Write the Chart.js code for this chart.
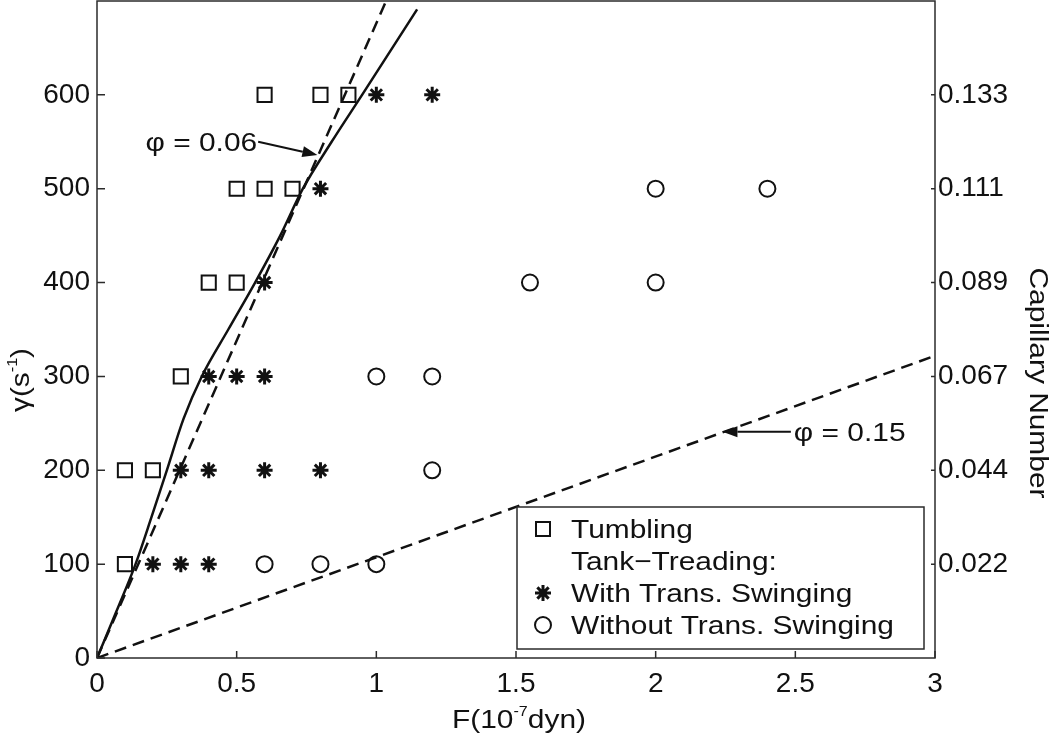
<!DOCTYPE html>
<html>
<head>
<meta charset="utf-8">
<script src="https://cdn.jsdelivr.net/npm/chart.js"></script>
<style>
  html, body { margin: 0; padding: 0; background: #fff; }
  #wrap { width: 1050px; height: 740px; }
</style>
</head>
<body>
<div id="wrap"><canvas id="phase" width="1050" height="740"></canvas></div>
<script>
"use strict";

// Tumbling (squares)
const tumbF = [0.1, 0.1, 0.2, 0.3, 0.4, 0.5, 0.5, 0.6, 0.7, 0.6, 0.8, 0.9];
const tumbG = [100, 200, 200, 300, 400, 400, 500, 500, 500, 600, 600, 600];
// Tank-treading with transient swinging (asterisks)
const withF = [0.2, 0.3, 0.4, 0.3, 0.4, 0.6, 0.8, 0.4, 0.5, 0.6, 0.6, 0.8, 1.0, 1.2];
const withG = [100, 100, 100, 200, 200, 200, 200, 300, 300, 300, 400, 500, 600, 600];
// Tank-treading without transient swinging (circles)
const woF = [0.6, 0.8, 1.0, 1.2, 1.0, 1.2, 1.55, 2.0, 2.0, 2.4];
const woG = [100, 100, 100, 200, 300, 300, 400, 400, 500, 500];

// solid boundary curve
const fitF = [0, 0.07, 0.138, 0.195, 0.25, 0.31, 0.375, 0.47, 0.566, 0.656, 0.737, 0.84, 0.949, 1.146];
const fitG = [0, 50, 100, 150, 200, 255, 300, 350, 400, 450, 500, 550, 600, 691];
// dashed lines phi = 0.06 and phi = 0.15
const phi06F = [0, 1.035];
const phi06G = [0, 700];
const phi15F = [0, 3];
const phi15G = [0, 322];

// axes
const xTicks = [0, 0.5, 1, 1.5, 2, 2.5, 3];
const yTicks = [0, 100, 200, 300, 400, 500, 600];
const capTicks = [100, 200, 300, 400, 500, 600];
const capLabels = ['0.022', '0.044', '0.067', '0.089', '0.111', '0.133'];

const FONT = "'Liberation Sans', Arial, Helvetica, sans-serif";
const INK = '#111';
const AXIS = '#2b2b2b';
const WIDE = 1.15; // figure font is wider than Arial

function pts(xs, ys) {
  return xs.map((x, i) => ({ x: x, y: ys[i] }));
}

// draw text stretched a bit horizontally
function wideText(ctx, txt, x, y, size, align) {
  ctx.save();
  ctx.font = size + 'px ' + FONT;
  ctx.textAlign = align;
  ctx.textBaseline = 'alphabetic';
  ctx.translate(x, y);
  ctx.scale(WIDE, 1);
  ctx.fillText(txt, 0, 0);
  ctx.restore();
}

// text with superscript parts, centred on 0,0 (baseline)
function richText(ctx, parts, size) {
  let widths = parts.map(p => {
    ctx.font = (p.sup ? Math.round(size * 0.55) : size) + 'px ' + FONT;
    return ctx.measureText(p.t).width * WIDE;
  });
  let total = widths.reduce((a, b) => a + b, 0);
  let x = -total / 2;
  parts.forEach((p, i) => {
    let s = p.sup ? Math.round(size * 0.55) : size;
    wideText(ctx, p.t, x, p.sup ? -size * 0.45 : 0, s, 'left');
    x += widths[i];
  });
}

const legendRows = [
  { style: 'rect', text: 'Tumbling' },
  { style: null, text: 'Tank\u2212Treading:' },
  { style: 'star', text: 'With Trans. Swinging' },
  { style: 'circle', text: 'Without Trans. Swinging' }
];

const notes = [
  { text: '\u03c6 = 0.06', align: 'right', from: [0.577, 550], to: [0.789, 536], gap: -1 },
  { text: '\u03c6 = 0.15', align: 'left', from: [2.484, 241], to: [2.239, 241], gap: 3 }
];

function marker(ctx, style, x, y) {
  ctx.save();
  ctx.strokeStyle = INK;
  ctx.beginPath();
  if (style === 'rect') {
    ctx.lineWidth = 2;
    ctx.rect(x - 7, y - 7, 14, 14);
  } else if (style === 'circle') {
    ctx.lineWidth = 2;
    ctx.arc(x, y, 8, 0, Math.PI * 2);
  } else if (style === 'star') {
    ctx.lineWidth = 3;
    for (let k = 0; k < 4; k++) {
      let a = k * Math.PI / 4;
      ctx.moveTo(x - Math.cos(a) * 8, y - Math.sin(a) * 8);
      ctx.lineTo(x + Math.cos(a) * 8, y + Math.sin(a) * 8);
    }
  }
  ctx.stroke();
  ctx.restore();
}

const frame = {
  id: 'frame',
  afterDraw(chart) {
    const { ctx, chartArea: a, scales } = chart;
    ctx.save();
    // box and inward ticks
    ctx.strokeStyle = AXIS;
    ctx.lineWidth = 1.5;
    ctx.strokeRect(a.left, a.top, a.right - a.left, a.bottom - a.top);
    ctx.beginPath();
    scales.x.ticks.forEach(t => {
      let px = scales.x.getPixelForValue(t.value);
      ctx.moveTo(px, a.bottom);
      ctx.lineTo(px, a.bottom - 7);
    });
    scales.y.ticks.forEach(t => {
      let py = scales.y.getPixelForValue(t.value);
      ctx.moveTo(a.left, py);
      ctx.lineTo(a.left + 8, py);
    });
    scales.y2.ticks.forEach(t => {
      let py = scales.y2.getPixelForValue(t.value);
      ctx.moveTo(a.right, py);
      ctx.lineTo(a.right - 4, py);
    });
    ctx.stroke();

    // annotations with arrows
    ctx.fillStyle = INK;
    ctx.strokeStyle = INK;
    notes.forEach(n => {
      let x0 = scales.x.getPixelForValue(n.from[0]);
      let y0 = scales.y.getPixelForValue(n.from[1]);
      let x1 = scales.x.getPixelForValue(n.to[0]);
      let y1 = scales.y.getPixelForValue(n.to[1]);
      let ang = Math.atan2(y1 - y0, x1 - x0);
      let hl = 15, hw = 5.5;
      let bx = x1 - Math.cos(ang) * hl, by = y1 - Math.sin(ang) * hl;
      ctx.lineWidth = 2;
      ctx.beginPath();
      ctx.moveTo(x0, y0);
      ctx.lineTo(bx, by);
      ctx.stroke();
      ctx.beginPath();
      ctx.moveTo(x1, y1);
      ctx.lineTo(bx + Math.sin(ang) * hw, by - Math.cos(ang) * hw);
      ctx.lineTo(bx - Math.sin(ang) * hw, by + Math.cos(ang) * hw);
      ctx.closePath();
      ctx.fill();
      wideText(ctx, n.text, x0 + n.gap, y0 + 9, 26, n.align);
    });

    // legend
    let lw = 407, lh = 142;
    let lx = a.right - 11 - lw, ly = a.bottom - 9 - lh;
    ctx.fillStyle = '#fff';
    ctx.fillRect(lx, ly, lw, lh);
    ctx.strokeStyle = AXIS;
    ctx.lineWidth = 1.5;
    ctx.strokeRect(lx, ly, lw, lh);
    ctx.fillStyle = INK;
    legendRows.forEach((r, i) => {
      let cy = ly + 22 + i * 32;
      if (r.style) marker(ctx, r.style, lx + 26, cy);
      wideText(ctx, r.text, lx + 54, cy + 9, 26, 'left');
    });

    // axis titles
    ctx.save();
    ctx.translate((a.left + a.right) / 2 + 3, 728);
    richText(ctx, [{ t: 'F(10' }, { t: '-7', sup: true }, { t: 'dyn)' }], 26);
    ctx.restore();

    ctx.save();
    ctx.translate(29, 380);
    ctx.rotate(-Math.PI / 2);
    richText(ctx, [{ t: '\u03b3(s' }, { t: '-1', sup: true }, { t: ')' }], 26);
    ctx.restore();

    ctx.save();
    ctx.translate(1030, 383);
    ctx.rotate(Math.PI / 2);
    richText(ctx, [{ t: 'Capillary Number' }], 26);
    ctx.restore();

    ctx.restore();
  }
};

const tickFont = { family: FONT, size: 28 };

function fitY(w) {
  return s => {
    s.width = w;
    s.paddingTop = 0;
    s.paddingBottom = 0;
  };
}

new Chart(document.getElementById('phase'), {
  type: 'scatter',
  data: {
    datasets: [
      {
        label: 'fit',
        data: pts(fitF, fitG),
        showLine: true,
        pointRadius: 0,
        borderColor: INK,
        borderWidth: 2.5,
        cubicInterpolationMode: 'monotone',
        fill: false
      },
      {
        label: 'phi 0.06',
        data: pts(phi06F, phi06G),
        showLine: true,
        pointRadius: 0,
        borderColor: INK,
        borderWidth: 2.5,
        borderDash: [12, 7],
        fill: false
      },
      {
        label: 'phi 0.15',
        data: pts(phi15F, phi15G),
        showLine: true,
        pointRadius: 0,
        borderColor: INK,
        borderWidth: 2.5,
        borderDash: [12, 7],
        fill: false
      },
      {
        label: 'Tumbling',
        data: pts(tumbF, tumbG),
        pointStyle: 'rect',
        pointRadius: 10,
        borderWidth: 2,
        borderColor: INK,
        backgroundColor: 'rgba(0,0,0,0)'
      },
      {
        label: 'With Trans. Swinging',
        data: pts(withF, withG),
        pointStyle: 'star',
        pointRadius: 8,
        borderWidth: 3,
        borderColor: INK,
        backgroundColor: 'rgba(0,0,0,0)'
      },
      {
        label: 'Without Trans. Swinging',
        data: pts(woF, woG),
        pointStyle: 'circle',
        pointRadius: 8,
        borderWidth: 2,
        borderColor: INK,
        backgroundColor: 'rgba(0,0,0,0)'
      }
    ]
  },
  options: {
    responsive: false,
    animation: false,
    events: [],
    devicePixelRatio: 1,
    layout: { autoPadding: false, padding: { top: 1, left: 0, right: 0, bottom: 0 } },
    plugins: {
      legend: { display: false },
      tooltip: { enabled: false }
    },
    scales: {
      x: {
        type: 'linear',
        min: 0,
        max: 3,
        grid: { display: false, drawTicks: false },
        border: { display: false },
        afterBuildTicks: s => { s.ticks = xTicks.map(v => ({ value: v })); },
        afterFit: s => { s.height = 82; s.paddingLeft = 0; s.paddingRight = 0; },
        ticks: { color: INK, font: tickFont, padding: 9, maxRotation: 0, callback: v => String(v) }
      },
      y: {
        type: 'linear',
        position: 'left',
        min: 0,
        max: 700,
        grid: { display: false, drawTicks: false },
        border: { display: false },
        afterBuildTicks: s => { s.ticks = yTicks.map(v => ({ value: v })); },
        afterFit: fitY(97),
        ticks: { color: INK, font: tickFont, padding: 7, callback: v => String(v) }
      },
      y2: {
        type: 'linear',
        position: 'right',
        min: 0,
        max: 700,
        grid: { display: false, drawTicks: false },
        border: { display: false },
        afterBuildTicks: s => { s.ticks = capTicks.map(v => ({ value: v })); },
        afterFit: fitY(115),
        ticks: {
          color: INK,
          font: tickFont,
          padding: 3,
          callback: v => {
            let i = capTicks.indexOf(v);
            return i >= 0 ? capLabels[i] : '';
          }
        }
      }
    }
  },
  plugins: [frame]
});
</script>
</body>
</html>
